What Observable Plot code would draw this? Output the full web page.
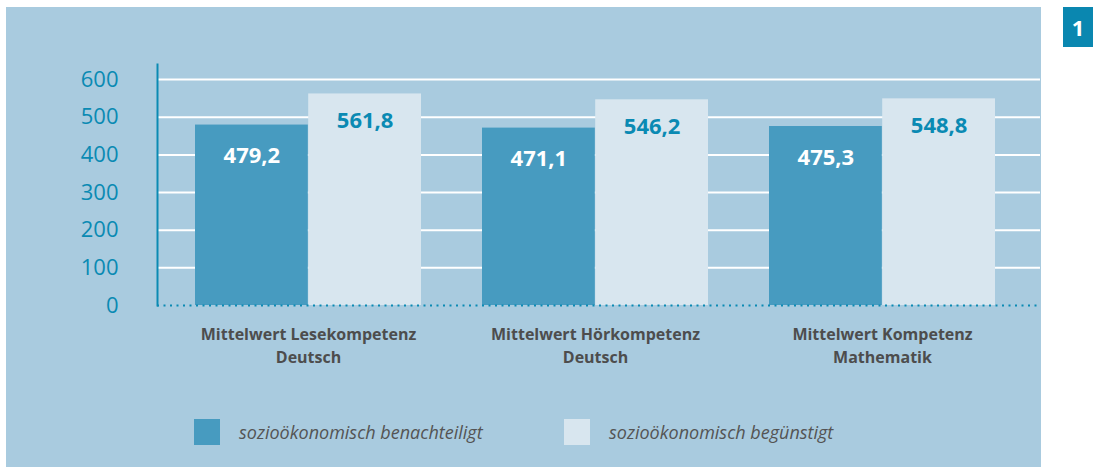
<!DOCTYPE html>
<html>
<head>
<meta charset="utf-8">
<script src="https://cdn.jsdelivr.net/npm/d3@7"></script>
<script src="https://cdn.jsdelivr.net/npm/@observablehq/plot@0.6"></script>
<style>
  html, body { margin: 0; padding: 0; background: #ffffff; }
  #wrap { position: relative; width: 1093px; height: 468px; overflow: hidden; font-family: "Open Sans", sans-serif; }
  #panel { position: absolute; left: 6px; top: 7px; width: 1035px; height: 460px; background: #a9cbdf; }
  #badge { position: absolute; left: 1063px; top: 7px; width: 30px; height: 40px; background: #0a87b0; color: #fff;
           font-weight: 700; font-size: 22px; line-height: 40px; text-align: center; }
  #chart { position: absolute; left: 0; top: 0; }
  .leg { position: absolute; top: 419px; display: flex; align-items: center; }
  .leg .sw { width: 26px; height: 26px; margin-right: 19px; }
  .leg .lb { font-style: italic; font-size: 18px; color: #545454; }
</style>
</head>
<body>
<div id="wrap">
  <div id="panel"></div>
  <div id="badge">1</div>
  <div id="chart"></div>
  <div class="leg" style="left:194px"><div class="sw" style="background:#479bc0"></div><div class="lb" id="l0"></div></div>
  <div class="leg" style="left:564px"><div class="sw" style="background:#d8e6ef"></div><div class="lb" id="l1"></div></div>
</div>
<script>
const categories = ["Mittelwert Lesekompetenz\nDeutsch", "Mittelwert Hörkompetenz\nDeutsch", "Mittelwert Kompetenz\nMathematik"];
const seriesNames = ["sozioökonomisch benachteiligt", "sozioökonomisch begünstigt"];
const benachteiligt = [479.2, 471.1, 475.3];
const beguenstigt = [561.8, 546.2, 548.8];
const yTicks = [0, 100, 200, 300, 400, 500, 600];

const teal = "#0a8ab3";
const darkBar = "#479bc0";
const lightBar = "#d8e6ef";

const rows = categories.map((c, i) => ({cat: c, a: benachteiligt[i], b: beguenstigt[i]}));
const fmt = v => v.toFixed(1).replace(".", ",");
const half = 113.2;

document.getElementById("l0").textContent = seriesNames[0];
document.getElementById("l1").textContent = seriesNames[1];

const chart = Plot.plot({
  width: 1093,
  height: 370,
  marginLeft: 157,
  marginRight: 53,
  marginTop: 64,
  marginBottom: 65,
  style: {background: "transparent", fontFamily: "Open Sans, sans-serif", overflow: "visible"},
  x: {type: "band", domain: categories, range: [194, 996], paddingInner: 0.214, paddingOuter: 0},
  y: {domain: [0, 640]},
  marks: [
    Plot.ruleY(yTicks.filter(d => d > 0), {stroke: "#ffffff", strokeWidth: 2}),
    Plot.barY(rows, {x: "cat", y: "a", fill: darkBar, insetRight: half}),
    Plot.barY(rows, {x: "cat", y: "b", fill: lightBar, insetLeft: half}),
    Plot.text(rows, {x: "cat", y: "a", text: d => fmt(d.a), dx: -half / 2, dy: 31, fill: "#ffffff", fontSize: 22, fontWeight: 700}),
    Plot.text(rows, {x: "cat", y: "b", text: d => fmt(d.b), dx: half / 2, dy: 27, fill: teal, fontSize: 22, fontWeight: 700}),
    Plot.ruleY([0], {stroke: teal, strokeWidth: 2, strokeDasharray: "2,4.5"}),
    Plot.frame({anchor: "left", stroke: teal, strokeWidth: 2}),
    Plot.axisY({ticks: yTicks, tickSize: 0, tickPadding: 39, color: teal, fontSize: 22, label: null}),
    Plot.axisX({tickSize: 0, tickPadding: 18, fontSize: 16, fontWeight: 700, color: "#4d4d4d", label: null, lineHeight: 1.45})
  ]
});
document.getElementById("chart").appendChild(chart);
</script>
</body>
</html>
